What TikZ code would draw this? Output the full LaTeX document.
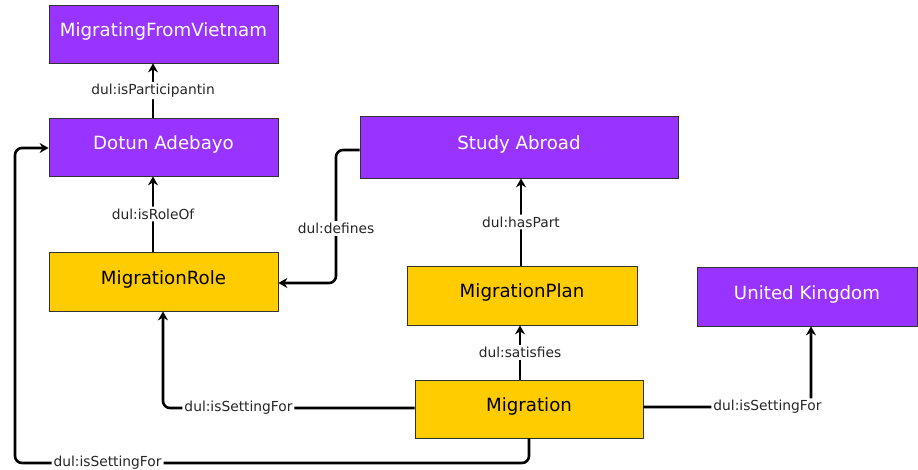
\documentclass[tikz,border=0pt]{standalone}
\usepackage{fontspec}
\setmainfont{DejaVu Sans}
\usetikzlibrary{arrows.meta}
\definecolor{cpurple}{HTML}{9933FF}
\definecolor{cyellow}{HTML}{FFCC00}
\definecolor{cborder}{HTML}{333333}
\tikzset{
  box/.style={draw=cborder, line width=0.8pt, inner sep=0pt, anchor=center, text height=13pt, text depth=8pt, font=\fontsize{18.2}{20}\selectfont},
  pbox/.style={box, fill=cpurple, text=white},
  ybox/.style={box, fill=cyellow, text=black},
  conn/.style={line width=2.6pt, rounded corners=7pt, -{Stealth[length=9pt,width=10pt,inset=3pt]}},
  lbl/.style={fill=white, inner sep=2pt, text=black!85, font=\fontsize{13.8}{15}\selectfont}
}
\begin{document}
\begin{tikzpicture}[x=1pt,y=-1pt]
\useasboundingbox[fill=white] (0,0) rectangle (918,470);
\node[pbox, minimum width=229pt, minimum height=58pt] (mfv) at (163.5,34) {MigratingFromVietnam};
\node[pbox, minimum width=229pt, minimum height=58pt] (dotun) at (163.5,147) {Dotun Adebayo};
\node[pbox, minimum width=318pt, minimum height=62pt] (study) at (519,147) {Study Abroad};
\node[ybox, minimum width=229pt, minimum height=59pt] (role) at (163.5,281.5) {MigrationRole};
\node[ybox, minimum width=230pt, minimum height=59pt] (plan) at (522,295.5) {MigrationPlan};
\node[pbox, minimum width=220pt, minimum height=59pt] (uk) at (807,296.5) {United Kingdom};
\node[ybox, minimum width=228pt, minimum height=58pt] (mig) at (529,409) {Migration};

\draw[conn] (dotun.north -| 153,0) coordinate (a1) -- (a1 |- mfv.south) node[midway, lbl] {dul:isParticipantin};
\draw[conn] (role.north -| 153,0) coordinate (a2) -- (a2 |- dotun.south) node[midway, lbl] {dul:isRoleOf};
\draw[conn] (study.west |- 0,150) coordinate (a3) -- (336,150) -- (336,283) node[pos=0.59, lbl] {dul:defines} -- (role.east |- 0,283);
\draw[conn] (plan.north -| 521,0) coordinate (a4) -- (a4 |- study.south) node[midway, lbl] {dul:hasPart};
\draw[conn] (mig.north -| 520,0) coordinate (a5) -- (a5 |- plan.south) node[midway, lbl] {dul:satisfies};
\draw[conn] (mig.west |- 0,408) coordinate (a6) -- (163,408) node[pos=0.7, lbl] {dul:isSettingFor} -- (163 ,0 |- role.south);
\draw[conn] (mig.east |- 0,407) coordinate (a7) -- (811,407) node[pos=0.74, lbl] {dul:isSettingFor} -- (811,0 |- uk.south);
\draw[conn] (mig.south -| 529,0) coordinate (a8) -- (529,463) -- (15,463) node[pos=0.82, lbl] {dul:isSettingFor} -- (15,148) -- (dotun.west |- 0,148);
\end{tikzpicture}
\end{document}
